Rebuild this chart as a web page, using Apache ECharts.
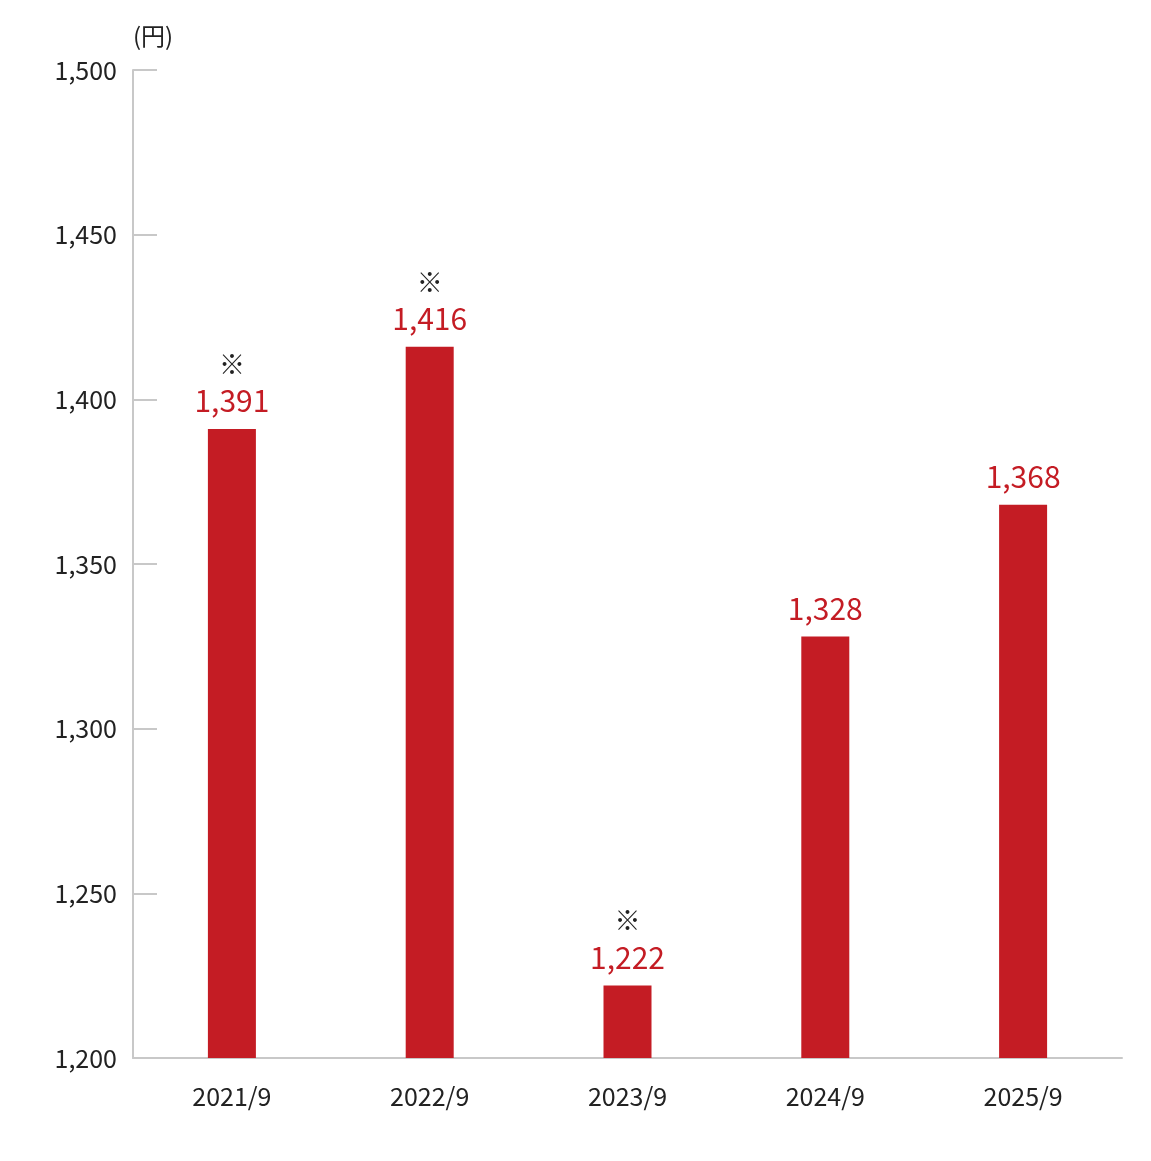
<!DOCTYPE html>
<html><head><meta charset="utf-8">
<script src="https://cdn.jsdelivr.net/npm/echarts@6/dist/echarts.min.js"></script>
<style>html,body{margin:0;background:#fff}#c{width:1151px;height:1161px}</style>
</head><body><div id="c"></div>
<script>
var categories = ['2021/9', '2022/9', '2023/9', '2024/9', '2025/9'];
var values = [1391, 1416, 1222, 1328, 1368];
var marked = [true, true, true, false, false];
var yTicks = [1200, 1250, 1300, 1350, 1400, 1450, 1500];

var font = '"Noto Sans CJK JP", "Noto Sans", sans-serif';
var chart = echarts.init(document.getElementById('c'));
chart.setOption({
  animation: false,
  grid: { left: 133, right: 29, top: 70, bottom: 103 },
  graphic: [{ type: 'text', left: 133, top: 24, style: { text: '(円)', font: '24px ' + font, fill: '#222' } }],
  xAxis: {
    type: 'category', data: categories,
    axisLine: { lineStyle: { color: '#c8c8c8', width: 2 } },
    axisTick: { inside: true, length: 24, lineStyle: { color: '#c8c8c8', width: 2 } },
    axisLabel: { color: '#222', fontSize: 25, fontFamily: font, margin: 26 }
  },
  yAxis: {
    type: 'value', min: 1200, max: 1500, interval: 50,
    axisLine: { show: true, lineStyle: { color: '#c8c8c8', width: 2 } },
    axisTick: { show: true, inside: true, length: 24, lineStyle: { color: '#c8c8c8', width: 2 } },
    splitLine: { show: false },
    axisLabel: {
      color: '#222', fontSize: 25, fontFamily: font, margin: 16, padding: [14, 0, 0, 0],
      formatter: function (v) { return yTicks.indexOf(v) >= 0 ? v.toLocaleString('en-US') : ''; }
    }
  },
  series: [{
    type: 'bar', barWidth: 48,
    data: values.map(function (v, i) { return { value: v, mark: marked[i] }; }),
    itemStyle: { color: '#c41c24' },
    label: {
      show: true, position: 'top', distance: 10, fontFamily: font,
      formatter: function (p) {
        var s = '{v|' + p.value.toLocaleString('en-US') + '}';
        return marked[p.dataIndex] ? '{m|※}\n' + s : s;
      },
      rich: {
        m: { fontSize: 26, color: '#222', fontFamily: font, lineHeight: 38 },
        v: { fontSize: 30, color: '#c41c24', fontFamily: font, lineHeight: 36 }
      }
    }
  }]
});
</script></body></html>
